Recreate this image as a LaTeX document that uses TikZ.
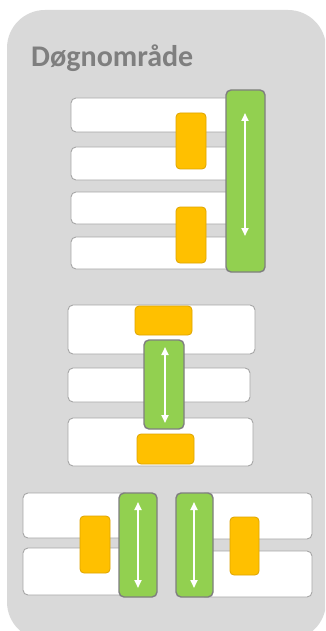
\documentclass[tikz,border=0pt]{standalone}
\usepackage{fontspec}
\setmainfont{Carlito}
\usetikzlibrary{arrows.meta}
\definecolor{panel}{HTML}{D9D9D9}
\definecolor{rowline}{HTML}{A6A6A6}
\definecolor{orangefill}{HTML}{FFC000}
\definecolor{orangeline}{HTML}{DDA400}
\definecolor{greenfill}{HTML}{92D050}
\definecolor{greenline}{HTML}{7F7F7F}
\definecolor{titlegray}{HTML}{7F7F7F}
\tikzset{
  box/.style={anchor=north west, inner sep=0pt, outer sep=0pt},
  rowbox/.style={box, draw=rowline, fill=white, line width=0.9pt, rounded corners=5pt},
  knob/.style={box, draw=orangeline, fill=orangefill, line width=0.8pt, rounded corners=4pt},
  slider/.style={box, draw=greenline, fill=greenfill, line width=1.4pt, rounded corners=5pt},
  rangearrow/.style={draw=white, line width=1.8pt, {Triangle[width=7pt,length=8pt]}-{Triangle[width=7pt,length=8pt]}},
}
% \bx{name}{style}{x1}{y1}{x2}{y2}
\newcommand{\bx}[6]{\node[#2, minimum width={(#5-#3)*1pt}, minimum height={(#6-#4)*1pt}] (#1) at (#3,#4) {};}
\begin{document}
\begin{tikzpicture}[x=1pt,y=-1pt]
\useasboundingbox (0,0) rectangle (325,631);
\begin{scope}
\clip (0,0) rectangle (325,631);
\fill[panel, rounded corners=38pt] (7,10) rectangle (326,640);
\end{scope}
\node[anchor=base west, inner sep=0pt, text=titlegray, font=\bfseries\fontsize{30}{32}\selectfont] (title) at (31,67) {Døgnområde};

% group 1
\bx{a1}{rowbox}{71}{98}{240}{132}
\bx{a2}{rowbox}{71}{147}{240}{180}
\bx{a3}{rowbox}{71}{192}{240}{224}
\bx{a4}{rowbox}{71}{237}{240}{269}
\bx{ak1}{knob}{176}{113}{206}{169}
\bx{ak2}{knob}{176}{207}{206}{263}
\bx{ag}{slider}{226}{90}{265}{272}
\coordinate (ag1) at (245,113);
\coordinate (ag2) at (245,236);
\draw[rangearrow] (ag1) -- (ag2);

% group 2
\bx{b1}{rowbox}{68}{305}{255}{354}
\bx{b2}{rowbox}{68}{368}{250}{402}
\bx{b3}{rowbox}{68}{418}{253}{466}
\bx{bk1}{knob}{135}{306}{192}{335}
\bx{bk2}{knob}{137}{434}{194}{464}
\bx{bg}{slider}{144}{340}{184}{429}
\coordinate (bg1) at (165,347);
\coordinate (bg2) at (165,423);
\draw[rangearrow] (bg1) -- (bg2);

% group 3 left
\bx{c1}{rowbox}{23}{493}{130}{538}
\bx{c2}{rowbox}{23}{548}{130}{595}
\bx{ck}{knob}{80}{516}{110}{573}
\bx{cg}{slider}{119}{493}{157}{597}
\coordinate (cg1) at (138,502);
\coordinate (cg2) at (138,588);
\draw[rangearrow] (cg1) -- (cg2);

% group 3 right
\bx{d1}{rowbox}{200}{493}{312}{539}
\bx{d2}{rowbox}{200}{551}{312}{597}
\bx{dk}{knob}{230}{517}{259}{575}
\bx{dg}{slider}{176}{493}{213}{597}
\coordinate (dg1) at (194,502);
\coordinate (dg2) at (194,588);
\draw[rangearrow] (dg1) -- (dg2);
\end{tikzpicture}
\end{document}
